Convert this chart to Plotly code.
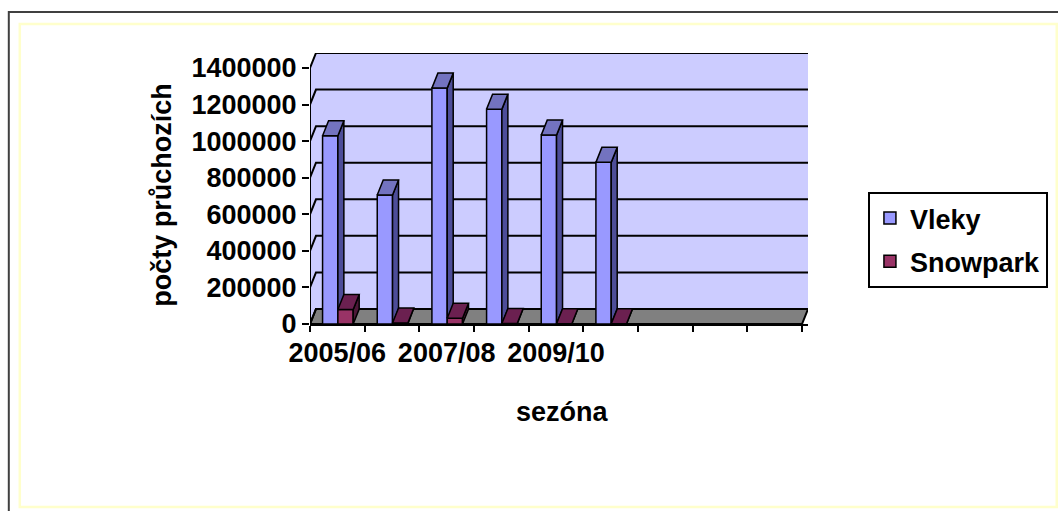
import plotly.graph_objects as go

# ---- data ----
seasons = ["2005/06", "2006/07", "2007/08", "2008/09", "2009/10", "2010/11"]
vleky = [1030000, 705000, 1290000, 1175000, 1033000, 884000]
snowpark = [79000, 5000, 31000, 3000, 1500, 800]
y_ticks = [0, 200000, 400000, 600000, 800000, 1000000, 1200000, 1400000]
y_tick_labels = ["0", "200000", "400000", "600000", "800000", "1000000", "1200000", "1400000"]
n_slots = 9  # category slots on the axis (6 used)

# ---- geometry (pixels) ----
W, H = 1058, 511
PX_L, PX_R_FRONT = 309.5, 802
PY_ZERO, PY_TOP = 324, 68
slot_px = (PX_R_FRONT - PX_L) / n_slots
ymax = 1400000
unit_px = (PY_ZERO - PY_TOP) / ymax
DEPTH_PX_X, DEPTH_PX_Y = 6, 15
dx = DEPTH_PX_X / slot_px
dy = DEPTH_PX_Y / unit_px

x_lo, x_hi = -0.5, n_slots - 0.5 + dx
y_lo, y_hi = 0, ymax + dy
plot_r = PX_L + (x_hi - x_lo) * slot_px
plot_t = PY_ZERO - (y_hi - y_lo) * unit_px

ml, mr, mt, mb = PX_L, W - plot_r, plot_t, H - PY_ZERO
pw, ph = W - ml - mr, H - mt - mb


def pxx(px):
    return (px - ml) / pw


def pxy(py):
    return (H - mb - py) / ph


FONT = "Arial, Liberation Sans, sans-serif"
FS = 27
C_V, C_V_TOP, C_V_SIDE = "#9999FF", "#7373C0", "#4D4D99"
C_S, C_S_TOP, C_S_SIDE = "#993366", "#6B2050", "#4D1738"
BW = 0.28
xs = list(range(len(seasons)))

fig = go.Figure()

# front faces
fig.add_trace(go.Bar(x=xs, y=vleky, name="Vleky", width=BW, offset=-BW + 0.01, legendgroup="v",
                     marker=dict(color=C_V, line=dict(color="black", width=1.5))))
fig.add_trace(go.Bar(x=xs, y=snowpark, name="Snowpark", width=BW, offset=0.01, legendgroup="s",
                     marker=dict(color=C_S, line=dict(color="black", width=1.5))))


def faces(values, x0s, cover=None):
    tx, ty, sx, sy = [], [], [], []
    for i, v in enumerate(values):
        a = x0s[i]
        b = a + BW
        tx += [a, b, b + dx, a + dx, a, None]
        ty += [v, v, v + dy, v + dy, v, None]
        c = 0 if cover is None else cover[i]
        if c <= 0:
            sx += [b, b + dx, b + dx, b, b, None]
            sy += [0, dy, v + dy, v, 0, None]
        elif c < dy:
            sx += [b, b + dx * c / dy, b + dx, b + dx, b, b, None]
            sy += [c, c, dy, v + dy, v, c, None]
        else:
            sx += [b, b + dx, b + dx, b, b, None]
            sy += [c, c, v + dy, v, c, None]
    return tx, ty, sx, sy


vx0 = [i - BW + 0.01 for i in xs]
sx0 = [i + 0.01 for i in xs]
tvx, tvy, svx, svy = faces(vleky, vx0, cover=snowpark)
tsx, tsy, ssx, ssy = faces(snowpark, sx0)
for X, Y, col in [(svx, svy, C_V_SIDE), (tvx, tvy, C_V_TOP),
                  (ssx, ssy, C_S_SIDE), (tsx, tsy, C_S_TOP)]:
    fig.add_trace(go.Scatter(x=X, y=Y, mode="lines", fill="toself", fillcolor=col,
                             line=dict(color="black", width=1.5), showlegend=False,
                             hoverinfo="skip"))

shapes = []
# back wall + side wall
shapes.append(dict(type="rect", xref="x", yref="y", x0=-0.5 + dx, x1=x_hi, y0=dy, y1=ymax + dy,
                   fillcolor="#CCCCFF", line=dict(width=0), layer="below"))
shapes.append(dict(type="path", xref="x", yref="y",
                   path=f"M{-0.5},{0} L{-0.5 + dx},{dy} L{-0.5 + dx},{ymax + dy} L{-0.5},{ymax} Z",
                   fillcolor="#CCCCFF", line=dict(width=0), layer="below"))
# floor
shapes.append(dict(type="path", xref="x", yref="y",
                   path=f"M{-0.5},0 L{n_slots - 0.5},0 L{x_hi},{dy} L{-0.5 + dx},{dy} Z",
                   fillcolor="#808080", line=dict(color="black", width=2), layer="below"))
# gridlines on walls
for t in y_ticks:
    shapes.append(dict(type="path", xref="x", yref="y",
                       path=f"M{-0.5},{t} L{-0.5 + dx},{t + dy} L{x_hi},{t + dy}",
                       line=dict(color="black", width=2), layer="below"))
# front vertical axis line
shapes.append(dict(type="line", xref="x", yref="y", x0=-0.5, x1=-0.5, y0=0, y1=ymax,
                   line=dict(color="black", width=2), layer="below"))
# outer chart borders
shapes.append(dict(type="rect", xref="paper", yref="paper", x0=pxx(8), x1=pxx(1064),
                   y0=pxy(516), y1=pxy(12), line=dict(color="#404040", width=2)))
shapes.append(dict(type="rect", xref="paper", yref="paper", x0=pxx(19), x1=pxx(1057),
                   y0=pxy(507), y1=pxy(24), line=dict(color="#FFFFCC", width=2.5)))

annotations = [
    dict(text="sezóna", xref="paper", yref="paper", x=pxx(562), y=pxy(412),
         xanchor="center", yanchor="middle", showarrow=False,
         font=dict(family=FONT, size=FS, color="black", weight="bold")),
    dict(text="počty průchozích", xref="paper", yref="paper", x=pxx(161), y=pxy(195),
         xanchor="center", yanchor="middle", textangle=-90, showarrow=False,
         font=dict(family=FONT, size=FS, color="black", weight="bold")),
]

fig.update_layout(
    width=W, height=H,
    margin=dict(l=ml, r=mr, t=mt, b=mb, autoexpand=False),
    paper_bgcolor="white", plot_bgcolor="rgba(0,0,0,0)",
    barmode="overlay",
    shapes=shapes, annotations=annotations,
    font=dict(family=FONT, color="black"),
    legend=dict(x=pxx(868), y=pxy(192), xanchor="left", yanchor="top",
                bordercolor="black", borderwidth=2, bgcolor="white",
                tracegroupgap=5,
                font=dict(family=FONT, size=FS, color="black", weight="bold"),
                itemwidth=30),
    xaxis=dict(range=[x_lo, x_hi], showgrid=False, zeroline=False, showline=True,
               linecolor="black", linewidth=2,
               tickvals=[0, 2, 4], ticktext=[seasons[0], seasons[2], seasons[4]],
               ticks="", ticklabelstandoff=4,
               tickfont=dict(family=FONT, size=FS, color="black", weight="bold"),
               minor=dict(tickvals=[i - 0.5 for i in range(n_slots + 1)], ticks="outside",
                          ticklen=6, tickcolor="black", tickwidth=2)),
    yaxis=dict(range=[y_lo, y_hi], showgrid=False, zeroline=False, showline=False,
               tickvals=y_ticks, ticktext=y_tick_labels,
               ticks="outside", ticklen=7, tickcolor="black", tickwidth=2,
               tickfont=dict(family=FONT, size=FS, color="black", weight="bold")),
    showlegend=True,
)

fig.write_html("out.html", config={"displayModeBar": False},
               post_script="document.body.style.margin='0';")
